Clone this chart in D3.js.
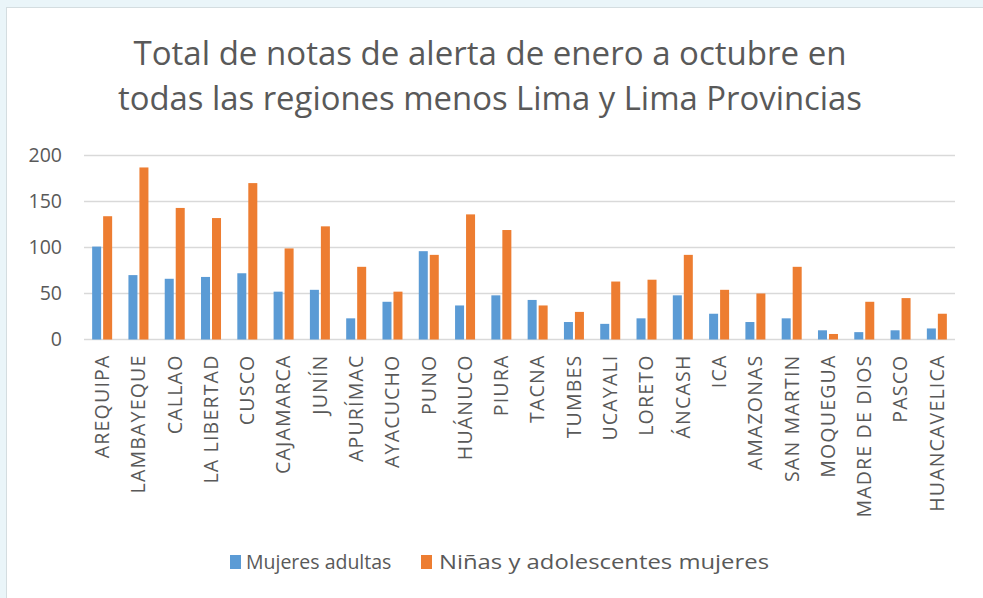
<!DOCTYPE html>
<html>
<head>
<meta charset="utf-8">
<script src="https://d3js.org/d3.v7.min.js"></script>
<style>
    body { margin: 0; background: #eaf5f9; }
    svg { display: block; }
</style>
</head>
<body>
<svg width="983" height="598"></svg>
<script>
    var regions = ["AREQUIPA", "LAMBAYEQUE", "CALLAO", "LA LIBERTAD", "CUSCO", "CAJAMARCA", "JUNÍN",
        "APURÍMAC", "AYACUCHO", "PUNO", "HUÁNUCO", "PIURA", "TACNA", "TUMBES", "UCAYALI", "LORETO",
        "ÁNCASH", "ICA", "AMAZONAS", "SAN MARTIN", "MOQUEGUA", "MADRE DE DIOS", "PASCO", "HUANCAVELICA"];
    var adultas = [101, 70, 66, 68, 72, 52, 54, 23, 41, 96, 37, 48, 43, 19, 17, 23, 48, 28, 19, 23, 10, 8, 10, 12];
    var ninas = [134, 187, 143, 132, 170, 99, 123, 79, 52, 92, 136, 119, 37, 30, 63, 65, 92, 54, 50, 79, 6, 41, 45, 28];
    var seriesNames = ["Mujeres adultas", "Niñas y adolescentes mujeres"];
    var seriesColors = ["#5b9bd5", "#ed7d31"];
    var yTicks = [0, 50, 100, 150, 200];
    var titleLines = ["Total de notas de alerta de enero a octubre en",
        "todas las regiones menos Lima y Lima Provincias"];

    var svg = d3.select("svg");
    var font = "'Open Sans', sans-serif";

    // chart frame
    svg.append("rect")
        .attr("x", 6.5).attr("y", 7.5)
        .attr("width", 1000).attr("height", 620)
        .attr("fill", "#fff")
        .attr("stroke", "#d4dde0");

    // title
    var titleWidths = [713, 744];
    svg.append("g").selectAll("text")
        .data(titleLines)
        .enter().append("text")
        .attr("x", 490)
        .attr("y", function(d, i) { return 65 + i * 45; })
        .attr("text-anchor", "middle")
        .attr("font-family", font)
        .attr("font-size", 33)
        .attr("fill", "#595959")
        .attr("textLength", function(d, i) { return titleWidths[i]; })
        .attr("lengthAdjust", "spacingAndGlyphs")
        .text(function(d) { return d; });

    var x = d3.scaleBand().domain(regions).range([84, 955]);
    var x1 = d3.scaleBand().domain([0, 1]).range([0, 20]).paddingInner(0.18);
    var y = d3.scaleLinear().domain([0, 200]).range([339.5, 155.5]);

    // gridlines
    svg.append("g")
        .selectAll("line")
        .data(yTicks)
        .enter().append("line")
        .attr("x1", x.range()[0]).attr("x2", x.range()[1])
        .attr("y1", function(d) { return y(d); })
        .attr("y2", function(d) { return y(d); })
        .attr("stroke", "#d9d9d9")
        .attr("stroke-width", 1.5);

    // y axis labels
    var yAxis = svg.append("g")
        .attr("transform", "translate(62,0)")
        .call(d3.axisLeft(y).tickValues(yTicks).tickSize(0).tickPadding(0));
    yAxis.select(".domain").remove();
    yAxis.selectAll("text")
        .attr("font-family", font)
        .attr("font-size", 19.5)
        .attr("fill", "#595959");

    // bars
    var series = [adultas, ninas];
    var bandOffset = (x.bandwidth() - 20) / 2;
    series.forEach(function(values, s) {
        svg.append("g")
            .selectAll("rect")
            .data(values)
            .enter().append("rect")
            .attr("x", function(d, i) { return x(regions[i]) + bandOffset + x1(s); })
            .attr("width", x1.bandwidth())
            .attr("y", function(d) { return y(d); })
            .attr("height", function(d) { return y(0) - y(d); })
            .attr("fill", seriesColors[s]);
    });

    // x axis labels
    var xAxis = svg.append("g")
        .attr("transform", "translate(0,339.5)")
        .call(d3.axisBottom(x).tickSize(0).tickPadding(0));
    xAxis.select(".domain").remove();
    xAxis.selectAll("text")
        .attr("font-family", font)
        .attr("font-size", 19.5)
        .attr("letter-spacing", 1.2)
        .attr("fill", "#595959")
        .attr("transform", "rotate(-90)")
        .attr("text-anchor", "end")
        .attr("x", -15)
        .attr("y", 0)
        .attr("dy", "0.35em");

    // legend
    var legendX = [230, 421];
    var legend = svg.append("g")
        .selectAll("g")
        .data(seriesNames)
        .enter().append("g")
        .attr("transform", function(d, i) { return "translate(" + legendX[i] + ",555)"; });
    legend.append("rect")
        .attr("width", 11).attr("height", 14)
        .attr("fill", function(d, i) { return seriesColors[i]; });
    legend.append("text")
        .attr("x", function(d, i) { return i ? 18 : 16; })
        .attr("y", 14)
        .attr("font-family", font)
        .attr("font-size", 19.5)
        .attr("fill", "#595959")
        .text(function(d) { return d; });
    // the second entry is spread wider in the original
    legend.filter(function(d, i) { return i === 1; }).select("text")
        .attr("textLength", 330)
        .attr("lengthAdjust", "spacingAndGlyphs");
</script>
</body>
</html>
